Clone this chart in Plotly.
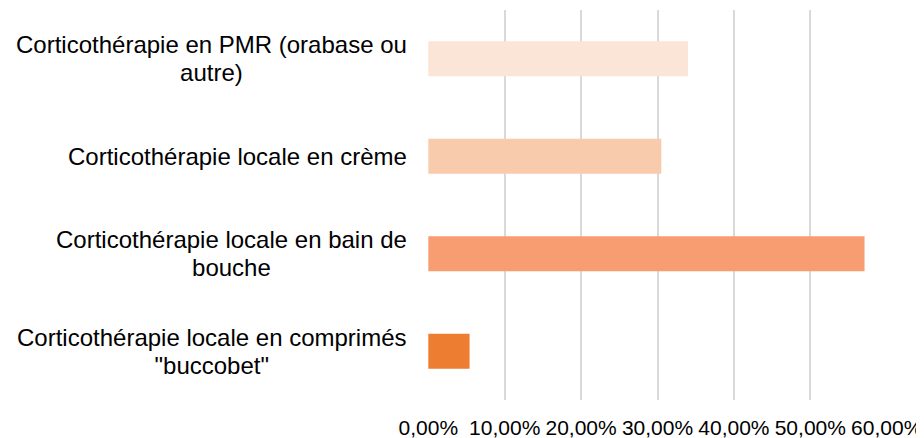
import plotly.graph_objects as go

categories = [
    "Corticothérapie en PMR (orabase ou<br>autre)",
    "Corticothérapie locale en crème",
    "Corticothérapie locale en bain de<br>bouche",
    "Corticothérapie locale en comprimés<br>\"buccobet\"",
]
values = [0.34, 0.305, 0.571, 0.054]
colors = ["#FBE5D6", "#F8CBAD", "#F89C72", "#ED7D31"]
tick_vals = [0, 0.1, 0.2, 0.3, 0.4, 0.5, 0.6]
tick_text = ["0,00%", "10,00%", "20,00%", "30,00%", "40,00%", "50,00%", "60,00%"]

FONT = "Liberation Sans, Arial, Helvetica, sans-serif"
LABEL_SIZE = 24
LINE_GAP = 27.5

# page body has an 8px margin: compensate so the chart fills the 924x438 window
PAGE_OFF = 8
W, H = 924 - PAGE_OFF, 438 - PAGE_OFF

fig = go.Figure()
fig.add_trace(go.Bar(
    x=values, y=categories, orientation="h",
    marker=dict(color=colors, line=dict(width=0)),
    width=0.36,
    hoverinfo="x+y",
))

base_size = LINE_GAP / 1.3  # plotly line spacing is 1.3em of the base font
for c in categories:
    lines = c.split("<br>")
    text = "<br>".join(
        "<span style='font-size:{}px'>{}</span>".format(LABEL_SIZE, ln) for ln in lines
    )
    fig.add_annotation(
        x=0, xref="paper", y=c, yref="y", text=text, showarrow=False,
        xanchor="right", yanchor="middle", align="center", xshift=-19,
        font=dict(family=FONT, size=base_size, color="#000000"),
    )

fig.update_layout(
    width=W, height=H,
    margin=dict(l=427.5 - PAGE_OFF, r=37, t=10 - PAGE_OFF, b=38, autoexpand=False),
    paper_bgcolor="white", plot_bgcolor="white",
    showlegend=False,
    font=dict(family=FONT, size=21, color="#000000"),
    xaxis=dict(
        range=[-0.0004, 0.6004], tickvals=tick_vals, ticktext=tick_text,
        showgrid=True, gridcolor="#D9D9D9", gridwidth=1.5,
        zeroline=False, showline=False, automargin=False,
        ticks="outside", ticklen=9, tickcolor="rgba(0,0,0,0)",
        tickfont=dict(family=FONT, size=21, color="#000000"),
    ),
    yaxis=dict(
        categoryorder="array", categoryarray=categories,
        autorange="reversed", showticklabels=False, automargin=False,
        showgrid=False, zeroline=False, showline=False,
    ),
)

fig.write_html("out.html")
